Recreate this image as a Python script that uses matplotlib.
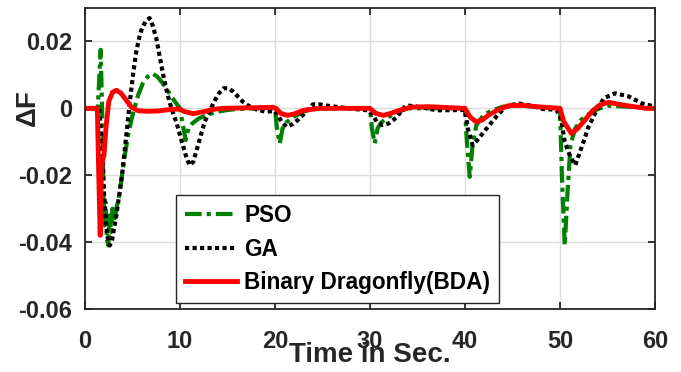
import matplotlib
matplotlib.use("Agg")
import matplotlib.pyplot as plt
from matplotlib.ticker import FixedLocator, FuncFormatter

plt.rcParams['font.family'] = ['Liberation Sans', 'DejaVu Sans']
plt.rcParams['font.weight'] = 'bold'
plt.rcParams['axes.unicode_minus'] = False

# ---------------- data ----------------
pso_t = [0, 1.35, 1.5, 1.65, 1.8, 1.95, 2.05, 2.15, 2.3, 2.45, 2.6, 2.75, 2.9, 3.1, 3.3,
         3.6, 3.9, 4.2, 4.6, 5.1, 5.6, 6.1, 6.6, 7.1, 7.6, 8.1, 8.6, 9.1, 9.6, 10.0,
         10.3, 10.6, 10.9, 11.3, 12, 13, 14, 15, 16, 18, 20.0,
         20.2, 20.5, 20.8, 21.2, 22, 23, 24, 30.0,
         30.2, 30.5, 30.8, 31.2, 32, 33, 34, 40.0,
         40.2, 40.5, 40.8, 41.2, 42, 43, 44, 46, 48, 50.0,
         50.2, 50.5, 50.8, 51.1, 51.6, 52.2, 53, 54, 55, 57, 60]
pso_v = [0, 0, 0.009, 0.0175, 0.0, -0.025, -0.035, -0.028, -0.039, -0.041, -0.032, -0.037, -0.030, -0.034, -0.030,
         -0.026, -0.020, -0.014, -0.007, -0.001, 0.004, 0.0075, 0.0095, 0.0104, 0.0095, 0.0078, 0.0058, 0.0035, 0.0015, 0.0,
         -0.005, -0.0095, -0.006, -0.0045, -0.003, -0.0018, -0.001, -0.0005, -0.0002, 0.0, 0.0,
         -0.006, -0.0105, -0.006, -0.0042, -0.0025, -0.001, 0.0, 0.0,
         -0.006, -0.0105, -0.006, -0.0042, -0.0025, -0.001, 0.0, 0.0,
         -0.010, -0.0205, -0.011, -0.005, -0.0018, -0.0005, 0.0005, 0.0008, 0.0003, 0.0,
         -0.020, -0.041, -0.025, -0.011, -0.006, -0.0035, -0.0018, -0.0002, 0.0008, 0.0005, 0.0]

ga_t = [0, 1.5, 1.8, 2.0, 2.2, 2.4, 2.6, 2.8, 3.0, 3.3, 3.6, 3.9, 4.2, 4.5, 4.8, 5.1, 5.4, 5.7,
        6.0, 6.4, 6.8, 7.1, 7.5, 7.9, 8.3, 8.7, 9.1, 9.6, 10.1, 10.6, 11.0, 11.4, 11.8, 12.2,
        12.6, 13.1, 13.6, 14.1, 14.6, 15.1, 15.6, 16.1, 16.6, 17.2, 18, 19, 20,
        20.3, 20.7, 21.2, 21.8, 22.4, 23, 23.5, 24, 24.6, 25.5, 26.6, 28.4, 29.8,
        30.3, 30.7, 31.3, 32, 32.8, 33.3, 33.8, 35.3, 37, 40,
        40.3, 40.8, 41.3, 42, 42.8, 43.5, 44.2, 44.8, 45.7, 46.8, 48.2, 49.6,
        50.1, 50.5, 51.1, 51.6, 52.3, 53, 53.7, 54.6, 55.8, 57.2, 58.6, 60]
ga_v = [0, 0, -0.012, -0.025, -0.034, -0.039, -0.041, -0.040, -0.037, -0.032, -0.026, -0.020, -0.012, -0.004, 0.004, 0.011, 0.017, 0.021,
        0.024, 0.026, 0.027, 0.025, 0.021, 0.015, 0.009, 0.004, 0.0, -0.004, -0.009, -0.014, -0.017, -0.016, -0.012, -0.008,
        -0.004, -0.001, 0.002, 0.0045, 0.006, 0.006, 0.005, 0.0035, 0.002, 0.0008, -0.0003, -0.001, -0.0008,
        -0.002, -0.004, -0.0055, -0.0048, -0.0035, -0.0018, -0.0003, 0.0012, 0.0012, 0.0008, 0.0004, -0.0002, -0.0006,
        -0.002, -0.004, -0.005, -0.0045, -0.0027, -0.0008, 0.0009, 0.0004, -0.0006, -0.0005,
        -0.006, -0.011, -0.0095, -0.007, -0.0042, -0.0018, 0.0002, 0.001, 0.0014, 0.0009, -0.0002, -0.0004,
        -0.003, -0.010, -0.0145, -0.017, -0.0115, -0.0055, -0.0015, 0.003, 0.0045, 0.0036, 0.0015, 0.0005]

bda_t = [0, 1.3, 1.45, 1.6, 1.72, 1.8, 2.0, 2.2, 2.5, 2.9, 3.3, 3.8, 4.2, 4.9, 5.6, 6.5, 7.7, 9.1,
         10.0, 10.4, 11.4, 12.5, 13.5, 14.5, 19.8,
         20.1, 20.6, 21.3, 22.0, 23, 24.8, 30.0,
         30.6, 31.4, 32.2, 33.2, 34.2, 36, 40.0,
         40.5, 41.2, 41.8, 42.5, 43.5, 44.6, 46, 48, 50.0,
         50.4, 51.2, 51.8, 52.6, 53.4, 54.2, 55.1, 56.8, 59, 60]
bda_v = [0, 0, -0.020, -0.038, -0.020, -0.016, -0.014, -0.006, 0.002, 0.0048, 0.0054, 0.0045, 0.003, 0.0003, -0.0007, -0.0009, -0.0008, -0.0003,
         -0.0002, -0.0009, -0.0016, -0.001, -0.0003, 0.0, 0.0003,
         0.0, -0.0015, -0.0021, -0.0017, -0.0006, 0.0, 0.0,
         -0.0015, -0.0021, -0.0015, -0.0005, 0.0003, 0.0005, 0.0,
         -0.0025, -0.0041, -0.0035, -0.002, -0.0004, 0.0008, 0.0009, 0.0004, 0.0,
         -0.004, -0.0075, -0.0062, -0.0036, -0.0008, 0.001, 0.0018, 0.0009, 0.0, 0.0]

series_labels = ['PSO', 'GA', 'Binary Dragonfly(BDA)']
x_ticks = [0, 10, 20, 30, 40, 50, 60]
y_ticks = [-0.06, -0.04, -0.02, 0, 0.02]

# ---------------- figure ----------------
fig = plt.figure(figsize=(6.81, 3.72), dpi=100)
ax = fig.add_axes([0.1248, 0.1694, 0.8370, 0.8091])

ax.plot(pso_t, pso_v, color='#008000', lw=3.0, linestyle=(0, (4, 1.2, 1, 1.2)),
        label=series_labels[0])
ax.plot(ga_t, ga_v, color='black', lw=3.0, linestyle=(0, (1, 0.8)),
        label=series_labels[1])
ax.plot(bda_t, bda_v, color='#ff0000', lw=3.5, linestyle='-',
        label=series_labels[2])

ax.set_xlim(0, 60)
ax.set_ylim(-0.06, 0.03)
ax.xaxis.set_major_locator(FixedLocator(x_ticks))
ax.yaxis.set_major_locator(FixedLocator(y_ticks))
ax.yaxis.set_major_formatter(FuncFormatter(lambda v, p: '0' if abs(v) < 1e-9 else '%.2f' % v))
ax.xaxis.set_major_formatter(FuncFormatter(lambda v, p: '%d' % v))

ax.grid(True, color='#dcdcdc', lw=1.0)
ax.set_axisbelow(True)
for s in ax.spines.values():
    s.set_color('#262626')
    s.set_linewidth(1.3)

ax.tick_params(axis='both', direction='in', length=5, width=1.3, color='#262626',
               top=True, right=True, labelsize=17, labelcolor='#262626')
ax.tick_params(axis='x', pad=15)
ax.tick_params(axis='y', pad=9)
for lab in ax.get_xticklabels() + ax.get_yticklabels():
    lab.set_fontweight('bold')

ax.set_xlabel('Time in Sec.', fontsize=20, fontweight='bold', color='#262626')
ax.xaxis.set_label_coords(0.5, -0.11)
ax.xaxis.label.set_va('top')
ax.set_ylabel('ΔF', fontsize=20, fontweight='bold', color='#262626')
ax.yaxis.set_label_coords(-0.10, 0.668)
ax.yaxis.label.set_va('center')

leg = ax.legend(loc='upper left', bbox_to_anchor=(0.16, 0.379), borderaxespad=0,
                handlelength=2.3, handletextpad=0.3, labelspacing=0.47,
                borderpad=0.4, fancybox=False, framealpha=1, edgecolor='#262626',
                prop={'weight': 'bold', 'size': 16.3})
leg.get_frame().set_linewidth(1.0)

fig.savefig('out.png', dpi=100)
